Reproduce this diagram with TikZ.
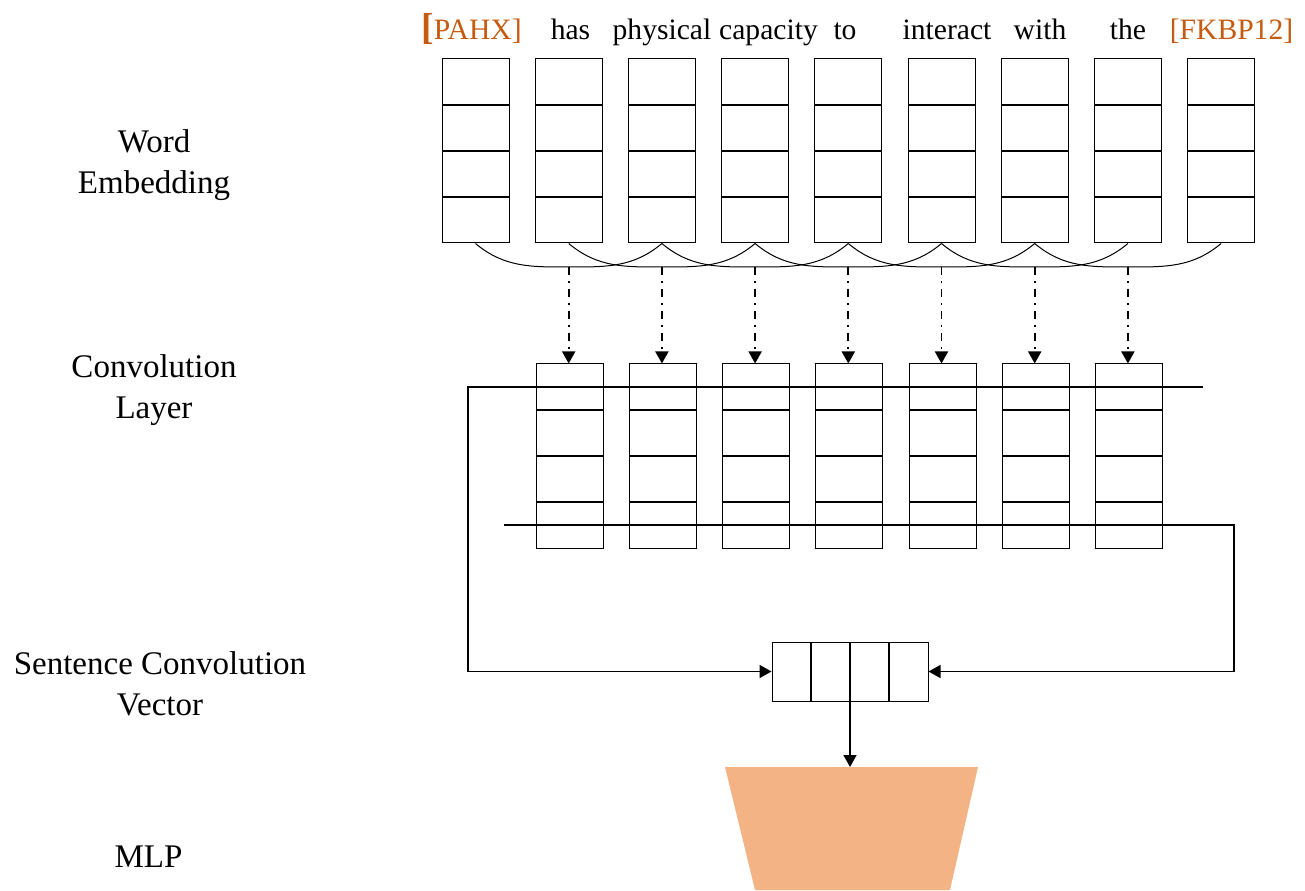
\documentclass[tikz,border=0pt]{standalone}
\usepackage{fontspec}
\setmainfont{Liberation Serif}
\usetikzlibrary{arrows.meta}
\definecolor{entorange}{RGB}{197,90,17}
\definecolor{mlpfill}{RGB}{244,179,133}

\begin{document}
\begin{tikzpicture}[x=0.5pt,y=0.5pt,
				embcol/.style={rectangle,draw,line width=0.5pt,minimum width=33.5pt,minimum height=92pt,inner sep=0pt,
					path picture={\foreach \d in {23pt,46pt,69pt}
						\draw[line width=0.6pt] ([yshift=-\d]path picture bounding box.north west) -- ([yshift=-\d]path picture bounding box.north east);}},
				vecbox/.style={rectangle,draw,line width=0.5pt,minimum width=78pt,minimum height=29.5pt,inner sep=0pt,
					path picture={\foreach \d in {19.5pt,39pt,58.5pt}
						\draw[line width=0.6pt] ([xshift=\d]path picture bounding box.north west) -- ([xshift=\d]path picture bounding box.south west);}},
				word/.style={anchor=base,inner sep=0pt,font=\fontsize{14.8}{17}\selectfont},
				entity/.style={word,text=entorange},
				layer/.style={align=center,inner sep=0pt,font=\fontsize{16.5}{20.5}\selectfont},
				tip/.style={-{Triangle[width=6.5pt,length=6pt]}},
				window/.style={line width=0.5pt},
				feed/.style={tip,line width=0.9pt,dash pattern=on 4pt off 3pt on 1pt off 3pt},
				wire/.style={tip,line width=0.75pt}]
	\useasboundingbox (0,0) rectangle (1305,890);
	% layer names
	\node[layer] (LWE) at (154,725) {Word\\Embedding};
	\node[layer] (LCL) at (154,500) {Convolution\\Layer};
	\node[layer] (LSV) at (160,206) {Sentence Convolution\\Vector};
	\node[layer,anchor=base] (LMLP) at (148.5,23) {MLP};
	% sentence
	\node[entity] (W1) at (471.5,850) {{\fontsize{18.8}{20}\selectfont\bfseries[}PAHX]};
	\node[word] (W2) at (570.5,850) {has};
	\node[word] (W3) at (662,850) {physical};
	\node[word] (W4) at (768.5,850) {capacity};
	\node[word] (W5) at (845,850) {to};
	\node[word] (W6) at (947,850) {interact};
	\node[word] (W7) at (1040,850) {with};
	\node[word] (W8) at (1128,850) {the};
	\node[entity] (W9) at (1231.5,850) {[FKBP12]};
	% word embedding
	\node[embcol] (E1) at (475.5,739) {};
	\node[embcol] (E2) at (568.7,739) {};
	\node[embcol] (E3) at (661.9,739) {};
	\node[embcol] (E4) at (755.1,739) {};
	\node[embcol] (E5) at (848.3,739) {};
	\node[embcol] (E6) at (941.5,739) {};
	\node[embcol] (E7) at (1034.7,739) {};
	\node[embcol] (E8) at (1127.9,739) {};
	\node[embcol] (E9) at (1221.1,739) {};
	% convolution layer
	\node[embcol] (C1) at (569.7,434) {};
	\node[embcol] (C2) at (662.9,434) {};
	\node[embcol] (C3) at (756.1,434) {};
	\node[embcol] (C4) at (849.3,434) {};
	\node[embcol] (C5) at (942.5,434) {};
	\node[embcol] (C6) at (1035.7,434) {};
	\node[embcol] (C7) at (1128.9,434) {};
	% windows of three words
	\coordinate (M1) at (568.7,623);
	\coordinate (M2) at (661.9,623);
	\coordinate (M3) at (755.1,623);
	\coordinate (M4) at (848.3,623);
	\coordinate (M5) at (941.5,623);
	\coordinate (M6) at (1034.7,623);
	\coordinate (M7) at (1127.9,623);
	\draw[window] (E1.south) to[out=-40,in=180] (M1) to[out=0,in=-140] (E3.south);
	\draw[window] (E2.south) to[out=-40,in=180] (M2) to[out=0,in=-140] (E4.south);
	\draw[window] (E3.south) to[out=-40,in=180] (M3) to[out=0,in=-140] (E5.south);
	\draw[window] (E4.south) to[out=-40,in=180] (M4) to[out=0,in=-140] (E6.south);
	\draw[window] (E5.south) to[out=-40,in=180] (M5) to[out=0,in=-140] (E7.south);
	\draw[window] (E6.south) to[out=-40,in=180] (M6) to[out=0,in=-140] (E8.south);
	\draw[window] (E7.south) to[out=-40,in=180] (M7) to[out=0,in=-140] (E9.south);
	\draw[feed] (M1) -- (M1 |- C1.north);
	\draw[feed] (M2) -- (M2 |- C2.north);
	\draw[feed] (M3) -- (M3 |- C3.north);
	\draw[feed] (M4) -- (M4 |- C4.north);
	\draw[feed] (M5) -- (M5 |- C5.north);
	\draw[feed] (M6) -- (M6 |- C6.north);
	\draw[feed] (M7) -- (M7 |- C7.north);
	% sentence convolution vector
	\node[vecbox] (V) at (850,218.5) {};
	\coordinate (T) at (1203,503);
	\coordinate (B) at (504,365);
	\draw[wire] (T) -- ++(-735,0) |- (V.west);
	\draw[wire] (B) -- ++(730,0) |- (V.east);
	% MLP
	\fill[mlpfill] (725,123) -- (978,123) -- (950,0) -- (755,0) -- cycle;
	\coordinate (MLP) at (850,123);
	\draw[wire] (V.south) -- (MLP);
\end{tikzpicture}
\end{document}
